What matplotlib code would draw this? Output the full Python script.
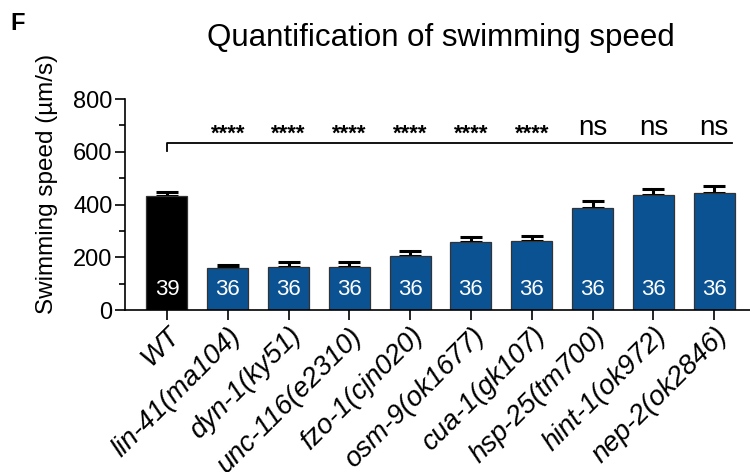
import matplotlib
matplotlib.use("Agg")
import matplotlib.pyplot as plt
import numpy as np

plt.rcParams['font.family'] = ['Liberation Sans', 'DejaVu Sans']

strains = ['WT', 'lin-41(ma104)', 'dyn-1(ky51)', 'unc-116(e2310)', 'fzo-1(cjn020)',
           'osm-9(ok1677)', 'cua-1(gk107)', 'hsp-25(tm700)', 'hint-1(ok972)', 'nep-2(ok2846)']
speed = [433, 158, 164, 164, 206, 258, 262, 388, 436, 444]
sem = [14, 13, 17, 17, 16, 19, 19, 26, 23, 25]
n_worms = [39, 36, 36, 36, 36, 36, 36, 36, 36, 36]
signif = ['', '****', '****', '****', '****', '****', '****', 'ns', 'ns', 'ns']

fig = plt.figure(figsize=(7.5, 4.72), dpi=100)
ax = fig.add_axes([0.1667, 0.3432, 0.8333, 0.447])

x = np.arange(len(strains))
colors = ['black'] + ['#0a5292'] * (len(strains) - 1)
ax.bar(x, speed, width=0.675, color=colors, edgecolor='#333333', linewidth=0.9, zorder=2)
ax.errorbar(x, speed, yerr=[np.zeros(len(sem)), sem], fmt='none', ecolor='black',
            elinewidth=2.2, capsize=8, capthick=2.2, zorder=1)

for xi, n in zip(x, n_worms):
    ax.text(xi, 78, str(n), color='white', ha='center', va='center', fontsize=16)

# comparison bracket against WT
ax.plot([0, 0, 9.29], [604, 634, 634], color='black', lw=1.3, clip_on=False)
for xi, s in zip(x, signif):
    if s == 'ns':
        ax.text(xi, 665, s, ha='center', va='baseline', fontsize=20)
    elif s:
        ax.text(xi, 645, s, ha='center', va='baseline', fontsize=16, fontweight='bold')

ax.set_xlim(-0.69, 9.59)
ax.set_ylim(0, 800)
ax.set_yticks([0, 200, 400, 600, 800])
ax.set_yticks([100, 300, 500, 700], minor=True)
ax.tick_params(axis='y', which='major', labelsize=17, length=7, width=1.2, pad=2)
ax.tick_params(axis='y', which='minor', length=4, width=1.2)
ax.tick_params(axis='x', length=7, width=1.2, pad=2)
ax.set_xticks(x)
ax.set_xticklabels(strains, rotation=45, ha='right', va='top', rotation_mode='anchor',
                   fontsize=20, style='italic')
ax.spines['top'].set_visible(False)
ax.spines['right'].set_visible(False)
ax.spines['left'].set_linewidth(1.2)
ax.spines['bottom'].set_linewidth(1.2)

fig.text(0.063, 0.61, 'Swimming speed (µm/s)', rotation=90, ha='center', va='center', fontsize=17.5)
fig.text(0.588, 0.9025, 'Quantification of swimming speed', ha='center', va='baseline', fontsize=22.5)
fig.text(0.014, 0.95, 'F', ha='left', va='center', fontsize=17, fontweight='bold')

fig.savefig('out.png', dpi=100)
